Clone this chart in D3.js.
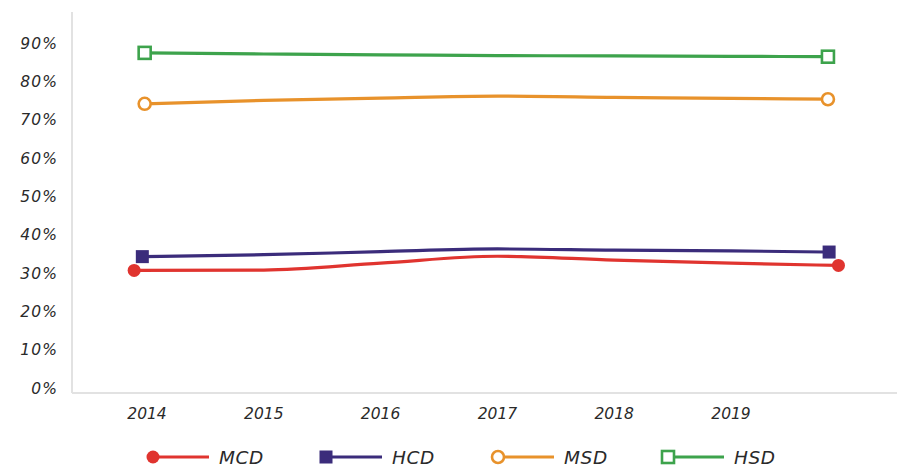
<!DOCTYPE html>
<html>
<head>
<meta charset="utf-8">
<script src="https://cdn.jsdelivr.net/npm/d3@7"></script>
<style>
  html, body { margin: 0; padding: 0; background: #fff; }
  svg { display: block; }
  text { font-family: "DejaVu Sans", sans-serif; font-style: italic; fill: #2a2a2a; }
</style>
</head>
<body>
<svg id="chart" width="897" height="468"></svg>
<script>
// Percentage tick labels and year categories
const yTicks = [0, 10, 20, 30, 40, 50, 60, 70, 80, 90];
const years = [2014, 2015, 2016, 2017, 2018, 2019];

// Each series: x positions in years (line ends run a little past the year grid), values in %
const mcdX = [2013.89, 2015, 2016, 2017, 2018, 2019, 2019.92];
const mcdY = [30.7, 30.8, 32.6, 34.4, 33.4, 32.6, 32.0];
const hcdX = [2013.96, 2015, 2016, 2017, 2018, 2019, 2019.84];
const hcdY = [34.3, 34.8, 35.6, 36.3, 36.0, 35.8, 35.5];
const msdX = [2013.98, 2015, 2016, 2017, 2018, 2019, 2019.83];
const msdY = [74.2, 75.1, 75.7, 76.2, 75.9, 75.6, 75.4];
const hsdX = [2013.98, 2015, 2016, 2017, 2018, 2019, 2019.83];
const hsdY = [87.5, 87.2, 87.0, 86.8, 86.7, 86.6, 86.5];

const seriesNames = ["MCD", "HCD", "MSD", "HSD"];
const seriesColors = ["#e0342f", "#3b2c7b", "#e8922b", "#3da34c"];
const seriesShapes = ["dot", "square", "ring", "box"];

const series = [
  { name: seriesNames[0], xs: mcdX, ys: mcdY, color: seriesColors[0], shape: seriesShapes[0] },
  { name: seriesNames[1], xs: hcdX, ys: hcdY, color: seriesColors[1], shape: seriesShapes[1] },
  { name: seriesNames[2], xs: msdX, ys: msdY, color: seriesColors[2], shape: seriesShapes[2] },
  { name: seriesNames[3], xs: hsdX, ys: hsdY, color: seriesColors[3], shape: seriesShapes[3] }
];

const svg = d3.select("#chart");

const x = d3.scaleLinear().domain([2014, 2019]).range([147, 731]);
const y = d3.scaleLinear().domain([0, 100]).range([388, 5]);

const axisX = 72, axisBottom = 393;

// Axis frame lines
svg.append("line")
  .attr("x1", axisX).attr("x2", axisX).attr("y1", 12).attr("y2", axisBottom)
  .attr("stroke", "#e2e2e2").attr("stroke-width", 2);
svg.append("line")
  .attr("x1", axisX).attr("x2", 897).attr("y1", axisBottom).attr("y2", axisBottom)
  .attr("stroke", "#e2e2e2").attr("stroke-width", 2);

// Y tick labels
svg.append("g").selectAll("text").data(yTicks).join("text")
  .attr("x", 58).attr("y", d => y(d))
  .attr("dy", "0.36em")
  .attr("text-anchor", "end")
  .attr("font-size", 15.5)
  .attr("letter-spacing", 1.1)
  .text(d => d + "%");

// X tick labels
svg.append("g").selectAll("text").data(years).join("text")
  .attr("x", d => x(d)).attr("y", 419)
  .attr("text-anchor", "middle")
  .attr("font-size", 15.5)
  .text(d => d);

// Lines
const line = d3.line().curve(d3.curveMonotoneX);

function drawMarker(g, shape, color, cx, cy) {
  if (shape === "dot") {
    g.append("circle").attr("cx", cx).attr("cy", cy).attr("r", 6.5).attr("fill", color);
  } else if (shape === "square") {
    g.append("rect").attr("x", cx - 6.5).attr("y", cy - 6.5).attr("width", 13).attr("height", 13).attr("fill", color);
  } else if (shape === "ring") {
    g.append("circle").attr("cx", cx).attr("cy", cy).attr("r", 6)
      .attr("fill", "#fff").attr("stroke", color).attr("stroke-width", 2.6);
  } else {
    g.append("rect").attr("x", cx - 6).attr("y", cy - 6).attr("width", 12).attr("height", 12)
      .attr("fill", "#fff").attr("stroke", color).attr("stroke-width", 2.6);
  }
}

series.forEach(s => {
  const pts = s.xs.map((xv, i) => [x(xv), y(s.ys[i])]);
  const g = svg.append("g");
  g.append("path")
    .attr("d", line(pts))
    .attr("fill", "none")
    .attr("stroke", s.color)
    .attr("stroke-width", 3.2);
  const first = pts[0], last = pts[pts.length - 1];
  drawMarker(g, s.shape, s.color, first[0], first[1]);
  drawMarker(g, s.shape, s.color, last[0], last[1]);
});

// Legend
const legendStarts = [153, 326, 498, 668];
const legend = svg.append("g");
series.forEach((s, i) => {
  const lx = legendStarts[i], ly = 457;
  const g = legend.append("g");
  g.append("line").attr("x1", lx).attr("x2", lx + 56).attr("y1", ly).attr("y2", ly)
    .attr("stroke", s.color).attr("stroke-width", 3.2);
  drawMarker(g, s.shape, s.color, lx, ly);
  g.append("text").attr("x", lx + 66).attr("y", ly).attr("dy", "0.36em")
    .attr("font-size", 18.5).attr("letter-spacing", 0.6)
    .text(s.name);
});
</script>
</body>
</html>
